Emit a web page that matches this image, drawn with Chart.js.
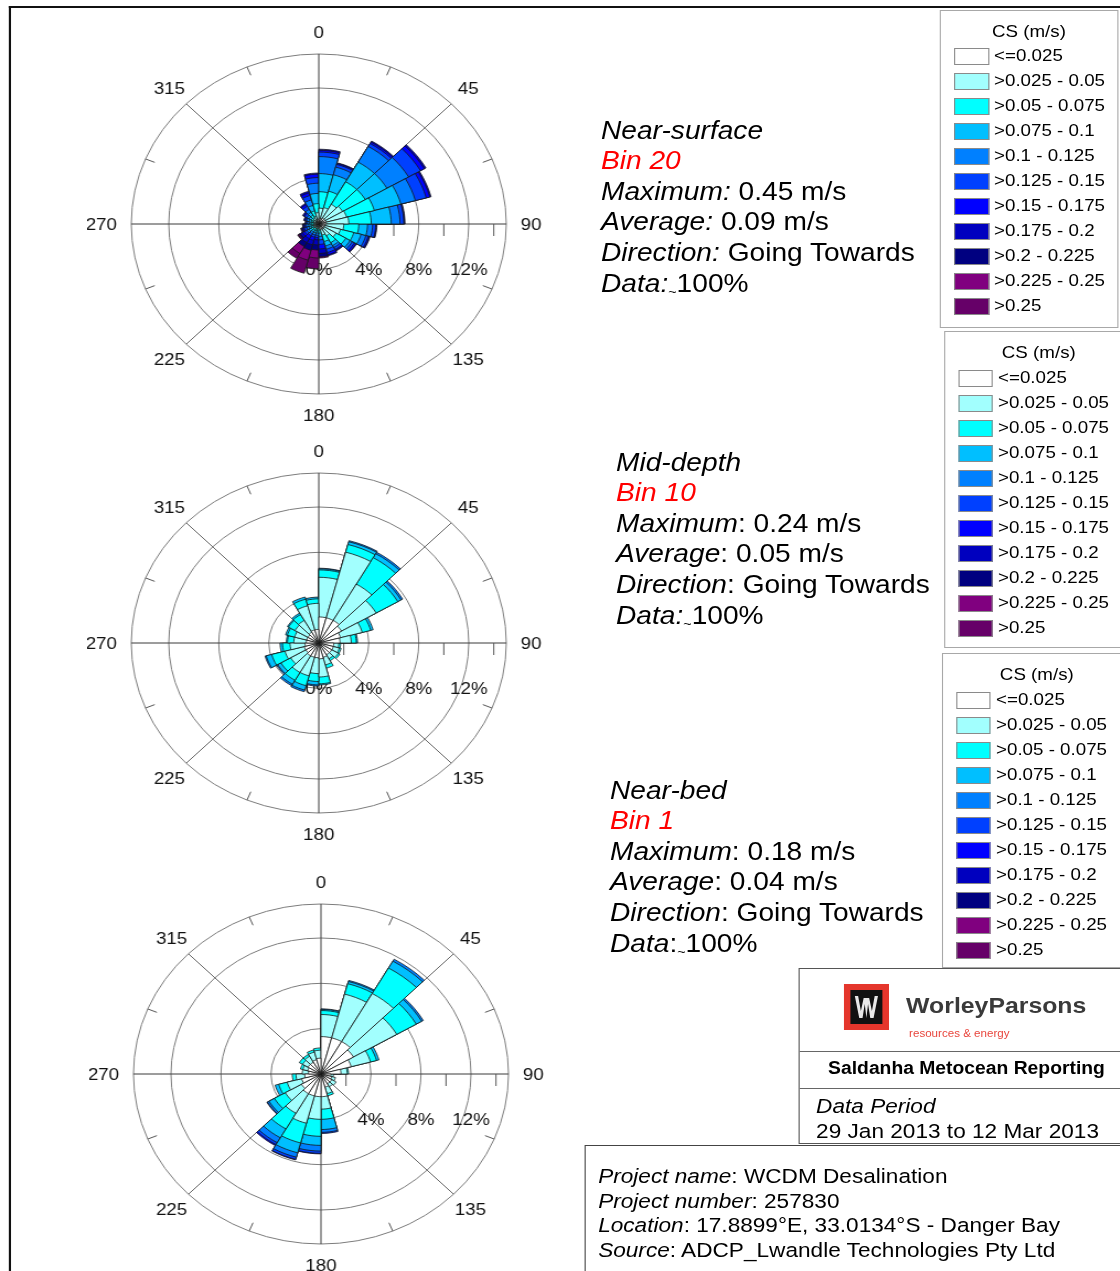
<!DOCTYPE html>
<html>
<head>
<meta charset="utf-8">
<script src="https://cdn.jsdelivr.net/npm/chart.js@4.4.0/dist/chart.umd.min.js"></script>
<style>
  html, body { margin: 0; padding: 0; background: #fff; overflow: hidden; width: 1120px; height: 1271px; }
  #page { position: absolute; left: 0; top: 0; width: 1016px; height: 1271px;
          transform: scaleX(1.103); transform-origin: 0 0;
          font-family: "Liberation Sans", Arial, sans-serif; color: #000; }
  .frame { position: absolute; left: 8.2px; top: 6px; width: 1100px; height: 1400px;
           border-left: 2px solid #111; border-top: 2px solid #111; }
  .rose { position: absolute; width: 420px; height: 420px; }
  .rose canvas { display: block; }
  .info { position: absolute; font-size: 25.5px; line-height: 30.6px; white-space: nowrap; }
  .info i { font-style: italic; }
  .info .bin { font-style: italic; color: #ff0000; }
  .tl { font-size: 13px; vertical-align: -4px; }
  .legend { position: absolute; border: 1px solid #a8a8a8; background: #fff; box-sizing: border-box; }
  .legend .ttl { position: absolute; left: 0; right: 0; text-align: center; font-size: 17px; line-height: 20px; }
  .legend .sw { position: absolute; width: 31.7px; height: 17px; border: 1px solid #8a8a8a; box-sizing: border-box; }
  .legend .lb { position: absolute; font-size: 17px; line-height: 20px; white-space: nowrap; }
  .box { position: absolute; border: 1px solid #555; background: #fff; box-sizing: border-box; }
  .abs { position: absolute; white-space: nowrap; }
</style>
</head>
<body>
<div id="page">
  <div class="frame"></div>

  <div class="rose" style="left:78.8px; top:14px;"><canvas id="roseSurface" width="420" height="420"></canvas></div>
  <div class="rose" style="left:78.8px; top:432.5px;"><canvas id="roseMid" width="420" height="420"></canvas></div>
  <div class="rose" style="left:81px; top:864px;"><canvas id="roseBed" width="420" height="420"></canvas></div>

  <div class="info" style="left:544.9px; top:114.7px;">
    <div><i>Near-surface</i></div>
    <div class="bin">Bin 20</div>
    <div><i>Maximum:</i> 0.45 m/s</div>
    <div><i>Average:</i> 0.09 m/s</div>
    <div><i>Direction:</i> Going Towards</div>
    <div><i>Data:</i><span class="tl">~</span>100%</div>
  </div>
  <div class="info" style="left:558.5px; top:446.7px;">
    <div><i>Mid-depth</i></div>
    <div class="bin">Bin 10</div>
    <div><i>Maximum</i>: 0.24 m/s</div>
    <div><i>Average</i>: 0.05 m/s</div>
    <div><i>Direction</i>: Going Towards</div>
    <div><i>Data:</i><span class="tl">~</span>100%</div>
  </div>
  <div class="info" style="left:553px; top:774.7px;">
    <div><i>Near-bed</i></div>
    <div class="bin">Bin 1</div>
    <div><i>Maximum</i>: 0.18 m/s</div>
    <div><i>Average</i>: 0.04 m/s</div>
    <div><i>Direction</i>: Going Towards</div>
    <div><i>Data</i>:<span class="tl">~</span>100%</div>
  </div>

  <div class="legend" id="leg1" style="left:852.2px; top:10px; width:161.4px; height:318px;"></div>
  <div class="legend" id="leg2" style="left:855.8px; top:331px; width:172px; height:317px;"></div>
  <div class="legend" id="leg3" style="left:854px; top:653px; width:172px; height:315px;"></div>

  <div class="box" style="left:724.4px; top:968px; width:320px; height:176px;">
    <svg class="abs" style="left:39.9px; top:15px;" width="41" height="46" viewBox="0 0 41 46">
      <rect x="0" y="0" width="41" height="46" fill="#e5362c"/>
      <rect x="6" y="6" width="29" height="34" fill="#111"/>
      <path d="M10 12 L14 34 L17 34 L19 20 L20.5 34 L22 20 L24 34 L27 34 L31 12 L28 12 L25.5 27 L23 14 L18 14 L15.5 27 L13 12 Z" fill="#e8e8e8"/>
    </svg>
    <div class="abs" style="left:96.1px; top:24px; font-size:22.5px; line-height:26px; font-weight:bold; color:#3a3a3a;">WorleyParsons</div>
    <div class="abs" style="left:98.8px; top:57px; font-size:10.5px; line-height:14px; color:#e8453c;">resources &amp; energy</div>
    <div class="abs" style="left:0; top:82px; width:320px; border-top:1px solid #666;"></div>
    <div class="abs" style="left:25.4px; top:88px; font-size:17.5px; line-height:22px; font-weight:bold;">Saldanha Metocean Reporting</div>
    <div class="abs" style="left:0; top:119px; width:320px; border-top:1px solid #666;"></div>
    <div class="abs" style="left:14.5px; top:125px; font-size:20.5px; line-height:24px; font-style:italic;">Data Period</div>
    <div class="abs" style="left:14.5px; top:150px; font-size:20.5px; line-height:24px;">29 Jan 2013 to 12 Mar 2013</div>
  </div>

  <div class="box" style="left:530.4px; top:1145px; width:520px; height:200px; border-color:#444;">
    <div class="abs" style="left:10.9px; top:18px; font-size:20.5px; line-height:24.7px;">
      <div><i>Project name</i>: WCDM Desalination</div>
      <div><i>Project number</i>: 257830</div>
      <div><i>Location</i>: 17.8899°E, 33.0134°S - Danger Bay</div>
      <div><i>Source</i>: ADCP_Lwandle Technologies Pty Ltd</div>
    </div>
  </div>
</div>

<script>
// Direction sectors (degrees, going towards), 15° wide, clockwise from north
const directionLabels = ['0','15','30','45','60','75','90','105','120','135','150','165',
                         '180','195','210','225','240','255','270','285','300','315','330','345'];

// Current speed classes (m/s) and their fill colours
const speedClasses = ['<=0.025','>0.025 - 0.05','>0.05 - 0.075','>0.075 - 0.1','>0.1 - 0.125',
                      '>0.125 - 0.15','>0.15 - 0.175','>0.175 - 0.2','>0.2 - 0.225','>0.225 - 0.25','>0.25'];
const classColors = ['#ffffff','#a2fffe','#00ffff','#00bfff','#0080ff',
                     '#0040ff','#0000ff','#0000bf','#000080','#80007f','#660068'];

// Outer edge (% of records) of each speed band, per direction sector
const nearSurfaceEdges = [
  [0.5, 1.4, 2.85, 4.45, 5.95, 6.35, 6.5, 6.6],
  [0.5, 1.5, 3.0, 4.5, 5.2, 5.45, 5.55, 5.6],
  [0.6, 2.0, 4.3, 6.3, 7.9, 8.2, 8.35, 8.45],
  [0.6, 2.2, 4.3, 6.3, 8.3, 9.4, 9.75, 9.9],
  [0.6, 2.3, 4.6, 6.8, 8.0, 8.9, 9.2, 9.3],
  [0.6, 2.4, 4.2, 5.8, 6.5, 6.8, 6.85, 6.9],
  [0.5, 2.0, 3.2, 3.9, 4.3, 4.55, 4.6, 4.65],
  [0.5, 1.8, 2.9, 3.5, 3.9, 4.1, 4.2, 4.25],
  [0.5, 1.6, 2.5, 2.9, 3.1, 3.3, 3.45, 3.5],
  [0.5, 1.2, 1.9, 2.2, 2.4, 2.6, 2.7, 2.75],
  [0.5, 1.0, 1.6, 2.0, 2.3, 2.6, 2.8, 2.9],
  [0.3, 0.5, 0.8, 1.1, 1.4, 1.8, 2.2, 2.6, 2.9, 3.0],
  [0.2, 0.4, 0.6, 0.8, 1.0, 1.2, 1.4, 1.85, 2.3, 3.0, 3.95],
  [0.2, 0.4, 0.6, 0.8, 1.0, 1.2, 1.5, 1.9, 2.4, 3.3, 4.5],
  [0.2, 0.4, 0.6, 0.8, 1.0, 1.2, 1.5, 1.9, 2.3, 3.0, 3.5],
  [0.3, 0.5, 0.7, 0.9, 1.1, 1.3, 1.5, 1.7, 1.8, 1.9, 1.95],
  [0.2, 0.4, 0.6, 0.8, 1.0, 1.2, 1.3, 1.4, 1.45, 1.5],
  [0.2, 0.4, 0.6, 0.8, 1.0, 1.1, 1.2, 1.25, 1.3],
  [0.2, 0.4, 0.6, 0.75, 0.9, 1.0, 1.05, 1.1],
  [0.2, 0.4, 0.6, 0.8, 1.0, 1.1, 1.2, 1.25],
  [0.2, 0.5, 0.7, 0.9, 1.1, 1.3, 1.4, 1.5],
  [0.3, 0.6, 0.9, 1.2, 1.5, 1.8, 2.0, 2.1],
  [0.3, 0.7, 1.2, 1.7, 2.2, 2.6, 2.85, 3.0],
  [0.4, 1.0, 1.8, 2.7, 3.6, 4.1, 4.4, 4.5]
];
const midDepthEdges = [
  [2.3, 5.8, 6.45, 6.55, 6.6],
  [2.3, 8.3, 9.0, 9.25, 9.35],
  [2.3, 6.0, 8.7, 9.1, 9.25],
  [2.1, 5.3, 7.3, 7.6, 7.75],
  [1.8, 3.6, 4.3, 4.5],
  [1.7, 2.6, 3.0, 3.1],
  [1.2, 1.6, 1.75],
  [1.2, 1.7, 1.85],
  [1.2, 1.8, 1.95],
  [1.2, 1.6, 1.8],
  [1.3, 2.0, 2.3],
  [1.4, 3.0, 3.6, 3.7],
  [1.3, 2.7, 3.4, 3.7, 3.8],
  [1.3, 3.0, 3.9, 4.3, 4.45],
  [1.3, 3.0, 3.8, 4.2, 4.35],
  [1.2, 2.6, 3.5, 3.8, 3.9],
  [1.2, 2.8, 3.9, 4.35, 4.45],
  [1.1, 2.3, 2.9, 3.1],
  [1.0, 2.0, 2.5, 2.6],
  [1.0, 2.0, 2.6, 2.75],
  [1.0, 2.2, 2.8, 2.9],
  [1.1, 2.3, 2.9, 3.05],
  [1.2, 3.4, 4.0, 4.2],
  [1.2, 3.5, 3.9, 4.05]
];
const nearBedEdges = [
  [3.3, 5.25, 5.6, 5.7, 5.75],
  [3.3, 7.3, 8.25, 8.45, 8.55],
  [3.3, 8.2, 10.8, 11.5, 11.7],
  [3.0, 7.0, 8.8, 9.3, 9.45],
  [2.5, 4.1, 4.6, 4.8],
  [1.6, 2.1, 2.2],
  [0.8, 1.0],
  [0.9, 1.2],
  [1.0, 1.4],
  [1.0, 1.3],
  [1.2, 1.8, 2.0],
  [2.0, 3.1, 4.0, 4.9, 5.15, 5.25],
  [2.0, 4.0, 5.5, 6.3, 6.8, 7.0, 7.05],
  [2.0, 4.5, 6.3, 7.2, 7.6, 7.8, 7.85],
  [2.0, 4.0, 5.6, 6.5, 7.0, 7.2, 7.3],
  [1.8, 3.3, 4.3, 4.8, 4.95, 5.0],
  [1.6, 2.8, 3.5, 3.8],
  [1.3, 2.0, 2.3],
  [1.0, 1.5],
  [1.1, 1.5, 1.7],
  [1.2, 1.7, 2.0],
  [1.2, 1.8, 2.0],
  [1.3, 2.0, 2.2],
  [1.4, 2.1, 2.3]
];

// Axis furniture
const ringLabelValues = [0, 4, 8, 12];
const axisTickValues = [2, 6, 10, 14];
const compassLabels = [0, 45, 90, 135, 180, 225, 270, 315];
const rimTickAngles = [22.5, 67.5, 112.5, 157.5, 202.5, 247.5, 292.5, 337.5];
const radialMax = 15;

const FONT = '17px "Liberation Sans", Arial, sans-serif';

// Compass bearing (degrees clockwise from north) and distance -> canvas point
function polarPoint(scale, deg, dist) {
  const a = deg * Math.PI / 180;
  return { x: scale.xCenter + Math.sin(a) * dist, y: scale.yCenter - Math.cos(a) * dist };
}

// Rim ticks, east-axis ticks, ring labels (under the bars) and compass labels
const roseDecor = {
  id: 'roseDecor',
  beforeDatasetsDraw(chart) {
    const s = chart.scales.r, ctx = chart.ctx;
    const cx = s.xCenter, cy = s.yCenter, R = s.drawingArea;
    ctx.save();
    ctx.strokeStyle = '#555';
    ctx.lineWidth = 1;
    rimTickAngles.forEach(deg => {
      const p1 = polarPoint(s, deg, R);
      const p2 = polarPoint(s, deg, R - 9);
      ctx.beginPath(); ctx.moveTo(p1.x, p1.y); ctx.lineTo(p2.x, p2.y); ctx.stroke();
    });
    axisTickValues.forEach(v => {
      const x = cx + s.getDistanceFromCenterForValue(v);
      ctx.beginPath(); ctx.moveTo(x, cy); ctx.lineTo(x, cy + 12); ctx.stroke();
    });
    ctx.fillStyle = '#111';
    ctx.font = FONT;
    ctx.textAlign = 'center';
    ctx.textBaseline = 'middle';
    ringLabelValues.forEach(v => {
      ctx.fillText(v + '%', cx + s.getDistanceFromCenterForValue(v), cy + R * 0.27);
    });
    ctx.restore();
  },
  afterDraw(chart) {
    const s = chart.scales.r, ctx = chart.ctx, R = s.drawingArea;
    ctx.save();
    ctx.fillStyle = '#111';
    ctx.font = FONT;
    ctx.textBaseline = 'middle';
    compassLabels.forEach(deg => {
      const sn = Math.sin(deg * Math.PI / 180);
      let p, align = 'center';
      if (Math.abs(sn) > 0.99) {
        p = polarPoint(s, deg, R + 13);
        align = sn > 0 ? 'left' : 'right';
      } else {
        p = polarPoint(s, deg, R + 21.5);
      }
      ctx.textAlign = align;
      ctx.fillText(String(deg), p.x, p.y + 1);
    });
    ctx.restore();
  }
};

function makeRose(canvasId, edges) {
  // One dataset per speed band; band k reaches out to its cumulative edge.
  // Dataset 0 is painted last, so inner bands sit on top of outer ones.
  const datasets = speedClasses.map((name, k) => ({
    label: name,
    data: edges.map(row => (k < row.length ? row[k] : 0)),
    backgroundColor: classColors[k],
    borderColor: '#161616',
    borderWidth: 0.8
  }));
  return new Chart(document.getElementById(canvasId), {
    type: 'polarArea',
    data: { labels: directionLabels, datasets },
    options: {
      responsive: false,
      animation: false,
      events: [],
      layout: { padding: 40 },
      plugins: { legend: { display: false }, tooltip: { enabled: false } },
      scales: {
        r: {
          min: 0,
          max: radialMax,
          startAngle: 0,
          ticks: { display: false, stepSize: 4 },
          grid: { circular: true, color: '#7c7c7c', lineWidth: 1 },
          angleLines: {
            display: true,
            color: c => (c.index % 6 === 0 ? '#3a3a3a' : '#666666'),
            lineWidth: c => (c.index % 3 === 0 ? 1 : 0)
          },
          pointLabels: { display: false }
        }
      }
    },
    plugins: [roseDecor]
  });
}

makeRose('roseSurface', nearSurfaceEdges);
makeRose('roseMid', midDepthEdges);
makeRose('roseBed', nearBedEdges);

// Speed-class keys beside each rose
function buildLegend(id, firstRow) {
  const box = document.getElementById(id);
  const ttl = document.createElement('div');
  ttl.className = 'ttl';
  ttl.style.top = '11px';
  ttl.textContent = 'CS (m/s)';
  box.appendChild(ttl);
  speedClasses.forEach((name, i) => {
    const yc = firstRow + 25 * i;
    const sw = document.createElement('div');
    sw.className = 'sw';
    sw.style.left = '11.8px';
    sw.style.top = (yc - 8.5) + 'px';
    sw.style.background = classColors[i];
    box.appendChild(sw);
    const lb = document.createElement('div');
    lb.className = 'lb';
    lb.style.left = '48px';
    lb.style.top = (yc - 10) + 'px';
    lb.textContent = name;
    box.appendChild(lb);
  });
}
buildLegend('leg1', 45);
buildLegend('leg2', 46);
buildLegend('leg3', 46);
</script>
</body>
</html>
